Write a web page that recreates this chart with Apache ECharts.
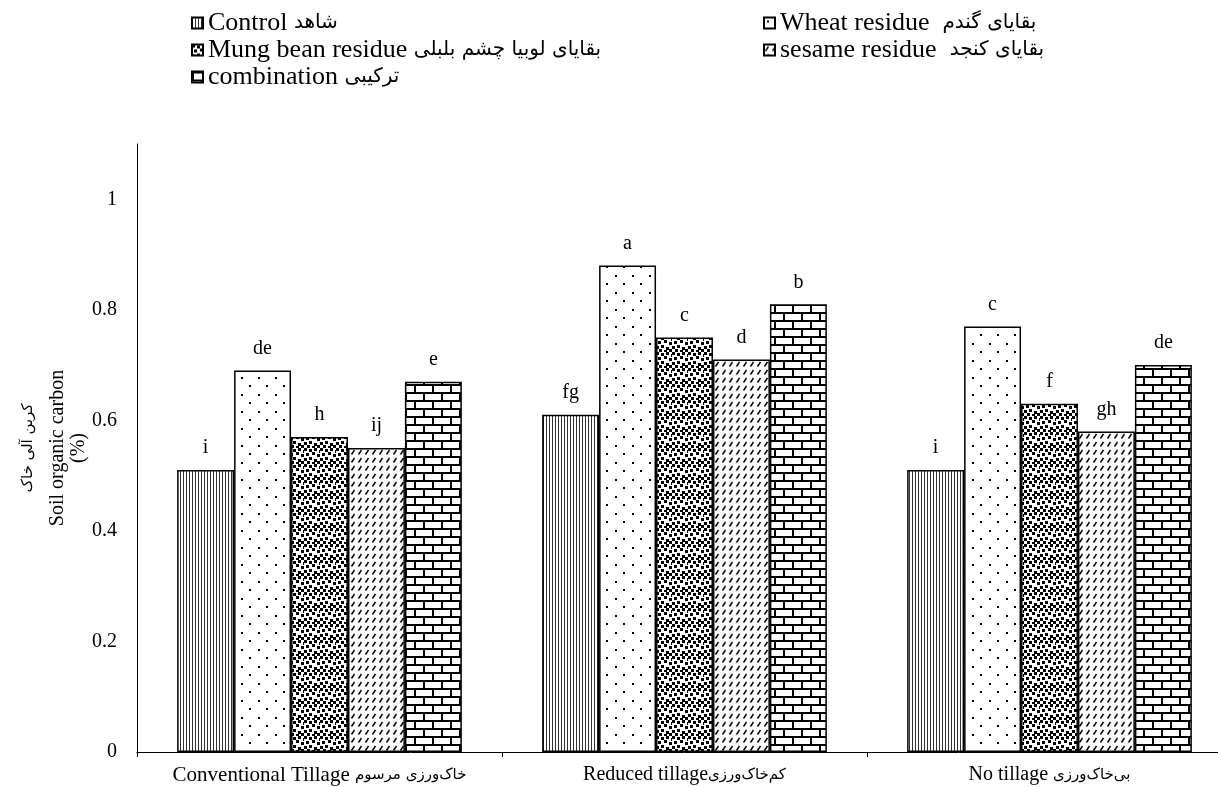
<!DOCTYPE html>
<html>
<head>
<meta charset="utf-8">
<script src="https://cdn.jsdelivr.net/npm/echarts@6/dist/echarts.min.js"></script>
<style>
  html, body { margin: 0; padding: 0; background: #fff; overflow: hidden; }
  /* نمودار کمی پهن‌تر از پنجره است، مانند تصویر اصلی که محور x بریده شده */
  #main { width: 1232px; height: 787px; }
</style>
</head>
<body>
<div id="main"></div>
<script>
// گروه‌ها (محور x)
var categories = ['Conventional Tillage خاک‌ورزی مرسوم', 'Reduced tillageکم‌خاک‌ورزی', 'No tillage بی‌خاک‌ورزی'];
var seriesNames = ['Control شاهد', 'Wheat residue  بقایای گندم', 'Mung bean residue بقایای لوبیا چشم بلبلی', 'sesame residue  بقایای کنجد', 'combination ترکیبی'];
// مقادیر کربن آلی خاک
var controlVals = [0.51, 0.61, 0.51];
var wheatVals = [0.69, 0.88, 0.77];
var mungVals = [0.57, 0.75, 0.63];
var sesameVals = [0.55, 0.71, 0.58];
var comboVals = [0.67, 0.81, 0.70];
// حروف مقایسه میانگین
var controlLetters = ['i', 'fg', 'i'];
var wheatLetters = ['de', 'a', 'c'];
var mungLetters = ['h', 'c', 'f'];
var sesameLetters = ['ij', 'd', 'gh'];
var comboLetters = ['e', 'b', 'de'];
var yTicks = { min: 0, max: 1.1, interval: 0.2 };

var SERIF = "'Liberation Serif', serif";
var FA = "'DejaVu Sans', sans-serif";

// جدا کردن بخش انگلیسی و فارسی
function splitText(s) {
  var i = s.search(/[\u0600-\u06FF]/);
  if (i < 0) return [s, ''];
  return [s.slice(0, i), s.slice(i)];
}
function richText(s) {
  var p = splitText(s);
  return '{en|' + p[0] + '}{fa|' + p[1] + '}';
}

function tile(w, h, draw) {
  var c = document.createElement('canvas');
  c.width = w; c.height = h;
  var ctx = c.getContext('2d');
  ctx.fillStyle = '#fff';
  ctx.fillRect(0, 0, w, h);
  ctx.fillStyle = '#000';
  ctx.strokeStyle = '#000';
  draw(ctx);
  return { image: c, repeat: 'repeat' };
}

// خطوط عمودی
var pVertical = tile(3, 4, function (ctx) {
  ctx.fillStyle = '#333';
  ctx.fillRect(0, 0, 1, 4);
});
// نقطه‌ها
var pDots = tile(17, 17, function (ctx) {
  ctx.fillRect(3, 3, 2, 2);
  ctx.fillRect(11, 11, 2, 2);
});
// مربع‌های پراکنده
var pConfetti = tile(16, 16, function (ctx) {
  var sq = [[0, 0], [5, 1], [10, 0], [2, 5], [8, 4], [13, 6], [0, 10], [5, 9], [10, 11], [3, 13], [13, 13], [8, 14], [15, 2]];
  sq.forEach(function (p) { ctx.fillRect(p[0], p[1], 3, 3); });
});
// خط‌های مورب کوتاه
var pSlash = tile(7, 8, function (ctx) {
  ctx.lineWidth = 1.4;
  ctx.beginPath();
  ctx.moveTo(1.5, 6.5);
  ctx.lineTo(4.5, 2);
  ctx.stroke();
});
// آجری
var pBrick = tile(18, 16, function (ctx) {
  ctx.fillRect(0, 0, 18, 2);
  ctx.fillRect(0, 8, 18, 2);
  ctx.fillRect(0, 2, 2, 6);
  ctx.fillRect(9, 10, 2, 6);
});

var patterns = [pVertical, pDots, pConfetti, pSlash, pBrick];
var values = [controlVals, wheatVals, mungVals, sesameVals, comboVals];
var letters = [controlLetters, wheatLetters, mungLetters, sesameLetters, comboLetters];

var chart = echarts.init(document.getElementById('main'));

var series = seriesNames.map(function (name, si) {
  return {
    name: name,
    type: 'bar',
    barGap: '0%',
    barCategoryGap: '22%',
    itemStyle: { color: patterns[si], borderColor: '#000', borderWidth: 1.5 },
    label: {
      show: true,
      position: 'top',
      distance: 12,
      color: '#000',
      fontFamily: SERIF,
      fontSize: 20,
      formatter: function (p) { return letters[si][p.dataIndex]; }
    },
    emphasis: { disabled: true },
    data: values[si]
  };
});

var legendText = {
  color: '#000',
  rich: {
    en: { fontFamily: SERIF, fontSize: 26, lineHeight: 27, color: '#000' },
    fa: { fontFamily: FA, fontSize: 20, lineHeight: 27, color: '#000' }
  }
};

var option = {
  animation: false,
  legend: [
    {
      data: [seriesNames[0], seriesNames[2], seriesNames[4]],
      orient: 'vertical', left: 186, top: 5,
      itemWidth: 11, itemHeight: 11, itemGap: 1,
      icon: 'rect', textStyle: legendText, formatter: richText
    },
    {
      data: [seriesNames[1], seriesNames[3]],
      orient: 'vertical', left: 758, top: 5,
      itemWidth: 11, itemHeight: 11, itemGap: 1,
      icon: 'rect', textStyle: legendText, formatter: richText
    }
  ],
  grid: { left: 137, right: 0, top: 144, bottom: 35 },
  xAxis: {
    type: 'category',
    data: categories,
    axisLine: { lineStyle: { color: '#000', width: 1 } },
    axisTick: { show: true, length: 5, lineStyle: { color: '#000' } },
    axisLabel: {
      color: '#000', margin: 13,
      formatter: function (v, i) {
        var p = splitText(v);
        return '{' + (i === 0 ? 'enL' : 'en') + '|' + p[0] + '}{fa|' + p[1] + '}';
      },
      rich: {
        enL: { fontFamily: SERIF, fontSize: 21, color: '#000' },
        en: { fontFamily: SERIF, fontSize: 20, color: '#000' },
        fa: { fontFamily: FA, fontSize: 15, color: '#000' }
      }
    }
  },
  yAxis: {
    type: 'value',
    min: yTicks.min, max: yTicks.max, interval: yTicks.interval,
    name: '{fa|کربن آلی خاک}\n{en|Soil organic carbon}\n{en2|(%)}',
    nameLocation: 'middle',
    nameRotate: 90,
    nameGap: 48,
    nameMoveOverlap: false,
    nameTextStyle: {
      color: '#000',
      rich: {
        fa: { fontFamily: FA, fontSize: 15, lineHeight: 40, color: '#000' },
        en: { fontFamily: SERIF, fontSize: 20, lineHeight: 20, color: '#000' },
        en2: { fontFamily: SERIF, fontSize: 20, lineHeight: 21, color: '#000' }
      }
    },
    axisLine: { show: true, lineStyle: { color: '#000', width: 1 } },
    axisTick: { show: false },
    splitLine: { show: false },
    axisLabel: { color: '#000', fontFamily: SERIF, fontSize: 20, margin: 20, showMaxLabel: false }
  },
  series: series
};

chart.setOption(option);
</script>
</body>
</html>
